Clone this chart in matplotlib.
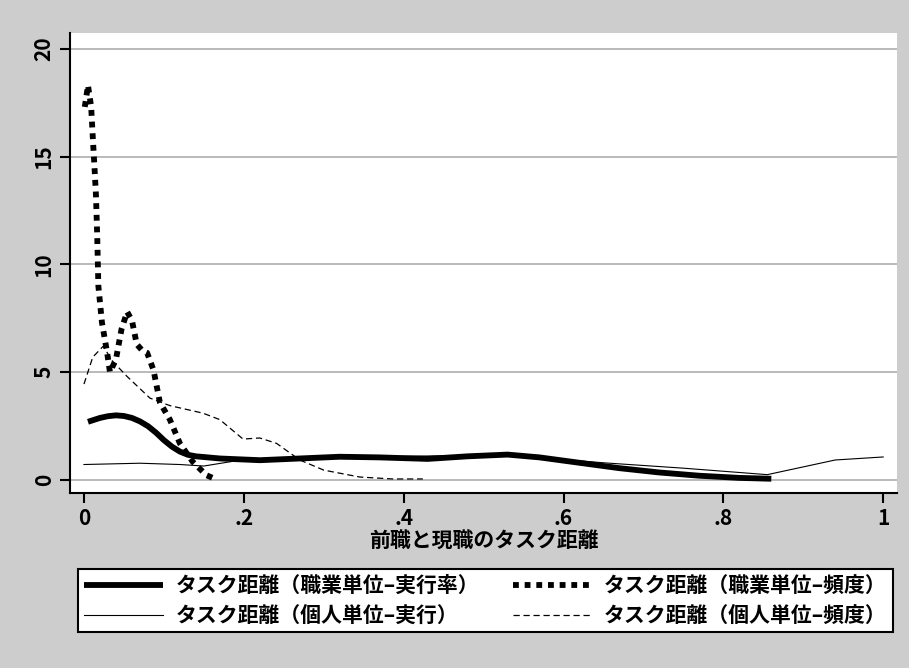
import matplotlib
matplotlib.use("Agg")
import matplotlib.pyplot as plt

plt.rcParams['font.family'] = ['Noto Sans CJK JP', 'DejaVu Sans']

# 職業単位-実行率 (thick solid)
occ_rate_x = [0.005, 0.02, 0.03, 0.04, 0.05, 0.06, 0.07, 0.08, 0.09, 0.10, 0.11, 0.12,
              0.13, 0.14, 0.17, 0.22, 0.27, 0.32, 0.37, 0.43, 0.48, 0.53, 0.57, 0.62,
              0.67, 0.72, 0.77, 0.82, 0.86]
occ_rate_y = [2.7, 2.88, 2.96, 3.0, 2.97, 2.88, 2.72, 2.5, 2.2, 1.85, 1.55, 1.32,
              1.17, 1.1, 1.0, 0.92, 1.0, 1.08, 1.05, 0.98, 1.1, 1.18, 1.05, 0.8,
              0.55, 0.35, 0.2, 0.1, 0.06]

# 職業単位-頻度 (thick dotted)
occ_freq_x = [0.001, 0.005, 0.009, 0.011, 0.013, 0.015, 0.0165, 0.018, 0.0225, 0.029,
              0.0325, 0.04, 0.047, 0.054, 0.06, 0.066, 0.073, 0.079, 0.087, 0.095,
              0.1075, 0.12, 0.136, 0.153, 0.164]
occ_freq_y = [17.3, 18.3, 17.3, 15.9, 14.6, 13.2, 11.4, 9.0, 7.3, 5.9,
              5.0, 5.6, 7.0, 7.8, 7.4, 6.3, 6.0, 5.9, 5.1, 3.6,
              2.8, 1.7, 0.85, 0.23, 0.05]

# 個人単位-実行 (thin solid)
ind_rate_x = [0.0, 0.07, 0.12, 0.15, 0.2, 0.3, 0.4, 0.5, 0.55, 0.65, 0.75, 0.855, 0.94, 1.0]
ind_rate_y = [0.72, 0.78, 0.72, 0.65, 0.95, 1.05, 1.1, 1.15, 1.1, 0.8, 0.55, 0.25, 0.93, 1.07]

# 個人単位-頻度 (thin dashed)
ind_freq_x = [0.0, 0.011, 0.024, 0.036, 0.054, 0.0825, 0.1075, 0.149, 0.17, 0.199,
              0.22, 0.241, 0.27, 0.30, 0.345, 0.386, 0.424]
ind_freq_y = [4.45, 5.7, 6.2, 5.5, 4.8, 3.8, 3.45, 3.1, 2.8, 1.9,
              1.95, 1.7, 0.93, 0.46, 0.14, 0.05, 0.05]

labels = ["タスク距離（職業単位–実行率）", "タスク距離（職業単位–頻度）",
          "タスク距離（個人単位–実行）", "タスク距離（個人単位–頻度）"]
x_ticks = [0, 0.2, 0.4, 0.6, 0.8, 1]
x_ticklabels = ["0", ".2", ".4", ".6", ".8", "1"]
y_ticks = [0, 5, 10, 15, 20]

bg = "#cdcdcd"
fig = plt.figure(figsize=(9.09, 6.68), dpi=100, facecolor=bg)
ax = fig.add_axes([0.077, 0.262, 0.910, 0.689])
ax.set_facecolor("white")

for y in y_ticks:
    ax.axhline(y, color="#b4b4b4", lw=1.3, zorder=0)

l1, = ax.plot(occ_rate_x, occ_rate_y, color="black", lw=4.2, solid_capstyle="butt")
l2, = ax.plot(occ_freq_x, occ_freq_y, color="black", lw=4.2, linestyle=(0, (1, 1)),
              dash_capstyle="butt")
l3, = ax.plot(ind_rate_x, ind_rate_y, color="black", lw=0.8)
l4, = ax.plot(ind_freq_x, ind_freq_y, color="black", lw=0.9, linestyle=(0, (5, 3)))

ax.set_xlim(-0.0175, 1.0175)
ax.set_ylim(-0.6, 20.74)
ax.set_xticks(x_ticks)
ax.set_xticklabels(x_ticklabels)
ax.set_yticks(y_ticks)
ax.set_yticklabels([str(v) for v in y_ticks], rotation=90, va="center")
ax.tick_params(direction="out", length=7, width=1.5, labelsize=15, pad=4)
for lab in ax.get_xticklabels() + ax.get_yticklabels():
    lab.set_fontweight("bold")

for s in ["top", "right"]:
    ax.spines[s].set_visible(False)
for s in ["left", "bottom"]:
    ax.spines[s].set_linewidth(1.5)

ax.set_xlabel("前職と現職のタスク距離", fontsize=15, fontweight="bold", labelpad=1)

# column-wise fill: col 1 = occ rate / ind rate, col 2 = occ freq / ind freq
leg = fig.legend([l1, l3, l2, l4], [labels[0], labels[2], labels[1], labels[3]],
                 ncol=2, loc="center", bbox_to_anchor=(0.534, 0.101),
                 prop={"size": 15, "weight": "bold"}, handlelength=3.8,
                 handletextpad=0.6, columnspacing=1.6, fancybox=False,
                 edgecolor="black", framealpha=1, borderpad=0.3, labelspacing=0.45)
leg.get_frame().set_linewidth(1.5)

fig.savefig("out.png", dpi=100, facecolor=bg)
